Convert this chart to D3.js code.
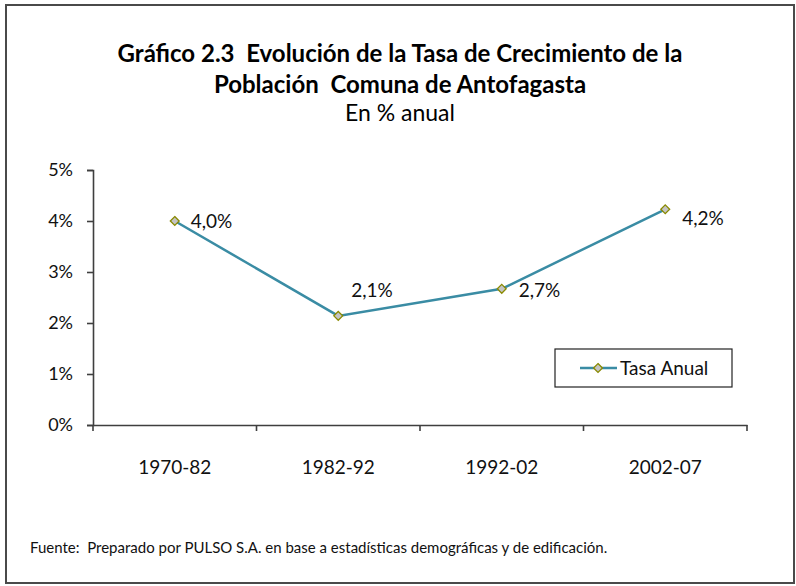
<!DOCTYPE html>
<html>
<head>
  <meta charset="utf-8">
  <title>Tasa de Crecimiento Antofagasta</title>
  <style>
    body { margin: 0; background: #fff; }
    svg { display: block; font-family: Lato, "Open Sans", sans-serif; }
    text { white-space: pre; }
  </style>
</head>
<body>
  <svg width="796" height="586"></svg>
  <script src="https://d3js.org/d3.v7.min.js"></script>
  <script>
    // data
    var periodos = ["1970-82", "1982-92", "1992-02", "2002-07"];
    var tasaAnual = [4.0, 2.14, 2.67, 4.23];
    var yTicks = [0, 1, 2, 3, 4, 5];
    var serieNombre = "Tasa Anual";
    // label offsets from each point (the original has them nudged by hand)
    var labelDx = [16, 13, 17, 17];
    var labelDy = [7, -19, 8, 16];

    var svg = d3.select("svg");
    var lineColor = "#3a8ca4";
    var axisColor = "#3f3f3f";

    // outer frame
    svg.append("rect")
      .attr("x", 6).attr("y", 5)
      .attr("width", 788).attr("height", 578)
      .attr("fill", "none")
      .attr("stroke", "#4a4a4a")
      .attr("stroke-width", 2);

    // titles
    var title = svg.append("g").attr("text-anchor", "middle");
    title.append("text").attr("x", 400).attr("y", 62)
      .attr("font-weight", "bold").attr("font-size", 24)
      .text("Gráfico 2.3  Evolución de la Tasa de Crecimiento de la");
    title.append("text").attr("x", 400).attr("y", 93)
      .attr("font-weight", "bold").attr("font-size", 24)
      .text("Población  Comuna de Antofagasta");
    title.append("text").attr("x", 400).attr("y", 121)
      .attr("font-size", 23)
      .text("En % anual");

    // scales
    var x = d3.scaleBand().domain(periodos).range([93, 747]).padding(0);
    var y = d3.scaleLinear().domain([0, 5]).range([425, 170]);

    // y axis
    var yAxis = svg.append("g")
      .attr("transform", "translate(93,0)")
      .call(d3.axisLeft(y).tickValues(yTicks).tickSize(6).tickPadding(14)
        .tickFormat(function (d) { return d + "%"; }));
    yAxis.selectAll("text").attr("font-size", 18).attr("fill", "#111")
      .attr("font-family", "Lato, sans-serif");

    // x axis (ticks on band edges like Excel)
    var xAxis = svg.append("g")
      .attr("transform", "translate(0,425)")
      .call(d3.axisBottom(x).tickSize(0).tickPadding(36));
    xAxis.selectAll("text").attr("font-size", 19).attr("fill", "#111")
      .attr("font-family", "Lato, sans-serif");
    var edges = periodos.map(function (p) { return x(p); }).concat([x.range()[1]]);
    xAxis.selectAll(".edge").data(edges).enter().append("line")
      .attr("class", "edge")
      .attr("x1", function (d) { return d; }).attr("x2", function (d) { return d; })
      .attr("y1", 0).attr("y2", 6);

    svg.selectAll(".domain, .tick line, .edge")
      .attr("stroke", axisColor).attr("stroke-width", 1.6);

    // line
    var line = d3.line()
      .x(function (d, i) { return x(periodos[i]) + x.bandwidth() / 2; })
      .y(function (d) { return y(d); });

    svg.append("path")
      .datum(tasaAnual)
      .attr("d", line)
      .attr("fill", "none")
      .attr("stroke", lineColor)
      .attr("stroke-width", 2.5);

    var diamond = d3.symbol().type(d3.symbolDiamond2).size(50);

    svg.selectAll(".pt").data(tasaAnual).enter().append("path")
      .attr("class", "pt")
      .attr("d", diamond)
      .attr("transform", function (d, i) {
        return "translate(" + (x(periodos[i]) + x.bandwidth() / 2) + "," + y(d) + ")";
      })
      .attr("fill", "#c4c4c4")
      .attr("stroke", "#8a8a00")
      .attr("stroke-width", 1.3);

    svg.selectAll(".lbl").data(tasaAnual).enter().append("text")
      .attr("class", "lbl")
      .attr("x", function (d, i) { return x(periodos[i]) + x.bandwidth() / 2 + labelDx[i]; })
      .attr("y", function (d, i) { return y(d) + labelDy[i]; })
      .attr("font-size", 19)
      .attr("fill", "#111")
      .text(function (d) { return d3.format(".1f")(d).replace(".", ",") + "%"; });

    // legend
    var legend = svg.append("g").attr("transform", "translate(555,349)");
    legend.append("rect")
      .attr("width", 177).attr("height", 38)
      .attr("fill", "#fff").attr("stroke", "#222").attr("stroke-width", 1.2);
    legend.append("line")
      .attr("x1", 25).attr("x2", 62).attr("y1", 19).attr("y2", 19)
      .attr("stroke", lineColor).attr("stroke-width", 2.5);
    legend.append("path")
      .attr("d", diamond)
      .attr("transform", "translate(43,19)")
      .attr("fill", "#c4c4c4").attr("stroke", "#8a8a00").attr("stroke-width", 1.3);
    legend.append("text")
      .attr("x", 65).attr("y", 26)
      .attr("font-size", 19).attr("fill", "#111")
      .text(serieNombre);

    // source note
    svg.append("text")
      .attr("x", 30).attr("y", 553)
      .attr("font-size", 15).attr("fill", "#111")
      .text("Fuente:  Preparado por PULSO S.A. en base a estadísticas demográficas y de edificación.");
  </script>
</body>
</html>
